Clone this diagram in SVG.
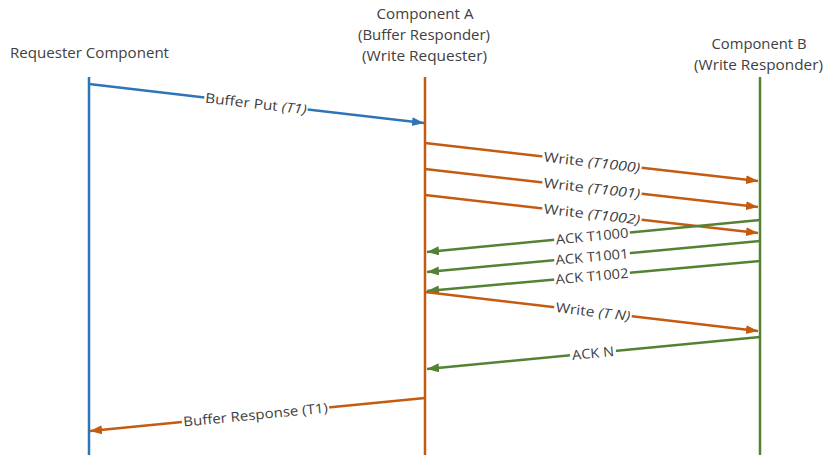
<svg xmlns="http://www.w3.org/2000/svg" width="823" height="455" viewBox="0 0 823 455">
<style>
.hdr{font-family:"Open Sans","Liberation Sans",sans-serif;font-size:14px;fill:#404040;text-anchor:middle}
.lbl{font-family:"Open Sans","Liberation Sans",sans-serif;font-size:13.5px;fill:#404040;text-anchor:middle;dominant-baseline:central}
.bg{fill:#ffffff}
.blue{stroke:#2e75b6}
.orange{stroke:#c55a11}
.green{stroke:#548235}
.life{stroke-width:2.5;fill:none}
.msg{stroke-width:2.5;fill:none}
</style>
<defs>
<marker id="aB" markerUnits="userSpaceOnUse" markerWidth="14" markerHeight="10" refX="12" refY="4.5" orient="auto"><path d="M0,0 L12,4.5 L0,9 z" fill="#2e75b6"/></marker>
<marker id="aO" markerUnits="userSpaceOnUse" markerWidth="14" markerHeight="10" refX="12" refY="4.5" orient="auto"><path d="M0,0 L12,4.5 L0,9 z" fill="#c55a11"/></marker>
<marker id="aG" markerUnits="userSpaceOnUse" markerWidth="14" markerHeight="10" refX="12" refY="4.5" orient="auto"><path d="M0,0 L12,4.5 L0,9 z" fill="#548235"/></marker>
</defs>
<rect width="823" height="455" fill="#ffffff"/>
<g id="requester">
<text class="hdr" x="89.5" y="58" textLength="159" lengthAdjust="spacingAndGlyphs">Requester Component</text>
<line class="life blue" x1="89" y1="77" x2="89" y2="455"/>
</g>
<g id="componentA">
<text class="hdr" x="425" y="19" textLength="97" lengthAdjust="spacingAndGlyphs">Component A</text>
<text class="hdr" x="424" y="40" textLength="132" lengthAdjust="spacingAndGlyphs">(Buffer Responder)</text>
<text class="hdr" x="424.5" y="61" textLength="125" lengthAdjust="spacingAndGlyphs">(Write Requester)</text>
<line class="life orange" x1="425" y1="77" x2="425" y2="455"/>
</g>
<g id="componentB">
<text class="hdr" x="759" y="49" textLength="95" lengthAdjust="spacingAndGlyphs">Component B</text>
<text class="hdr" x="758.5" y="70" textLength="129" lengthAdjust="spacingAndGlyphs">(Write Responder)</text>
<line class="life green" x1="760" y1="77" x2="760" y2="455"/>
</g>
<g id="connectors">
<line class="msg blue" x1="89" y1="84" x2="424" y2="123" marker-end="url(#aB)"/>
<g transform="translate(256,103.5) rotate(6.62)"><rect class="bg" x="-52" y="-7" width="104" height="14"/><text class="lbl" x="0" y="0" textLength="102" lengthAdjust="spacingAndGlyphs">Buffer Put <tspan font-style="italic">(T1)</tspan></text></g>

<line class="msg orange" x1="425" y1="143" x2="758" y2="181" marker-end="url(#aO)"/>
<g transform="translate(592,162) rotate(6.51)"><rect class="bg" x="-50" y="-7" width="100" height="14"/><text class="lbl" x="0" y="0" textLength="97" lengthAdjust="spacingAndGlyphs">Write <tspan font-style="italic">(T1000)</tspan></text></g>

<line class="msg orange" x1="425" y1="169" x2="758" y2="207" marker-end="url(#aO)"/>
<g transform="translate(592,188) rotate(6.51)"><rect class="bg" x="-50" y="-7" width="100" height="14"/><text class="lbl" x="0" y="0" textLength="97" lengthAdjust="spacingAndGlyphs">Write <tspan font-style="italic">(T1001)</tspan></text></g>

<line class="msg orange" x1="425" y1="195" x2="758" y2="233" marker-end="url(#aO)"/>
<g transform="translate(592,214) rotate(6.51)"><rect class="bg" x="-50" y="-7" width="100" height="14"/><text class="lbl" x="0" y="0" textLength="97" lengthAdjust="spacingAndGlyphs">Write <tspan font-style="italic">(T1002)</tspan></text></g>

<line class="msg green" x1="760" y1="220" x2="427" y2="252" marker-end="url(#aG)"/>
<g transform="translate(592,236) rotate(-5.49)"><rect class="bg" x="-38" y="-7" width="76" height="14"/><text class="lbl" x="0" y="0" textLength="73" lengthAdjust="spacingAndGlyphs">ACK T1000</text></g>

<line class="msg green" x1="760" y1="241" x2="427" y2="272" marker-end="url(#aG)"/>
<g transform="translate(592,256.5) rotate(-5.3)"><rect class="bg" x="-38" y="-7" width="76" height="14"/><text class="lbl" x="0" y="0" textLength="73" lengthAdjust="spacingAndGlyphs">ACK T1001</text></g>

<line class="msg green" x1="760" y1="261" x2="427" y2="291" marker-end="url(#aG)"/>
<g transform="translate(592,276) rotate(-5.15)"><rect class="bg" x="-38" y="-7" width="76" height="14"/><text class="lbl" x="0" y="0" textLength="73" lengthAdjust="spacingAndGlyphs">ACK T1002</text></g>

<line class="msg orange" x1="425" y1="292" x2="758" y2="331" marker-end="url(#aO)"/>
<g transform="translate(593,311.5) rotate(6.68)"><rect class="bg" x="-39" y="-7" width="78" height="14"/><text class="lbl" x="0" y="0" textLength="75" lengthAdjust="spacingAndGlyphs">Write <tspan font-style="italic">(T N)</tspan></text></g>

<line class="msg green" x1="760" y1="337" x2="427" y2="369" marker-end="url(#aG)"/>
<g transform="translate(593,353) rotate(-5.49)"><rect class="bg" x="-23" y="-7" width="46" height="14"/><text class="lbl" x="0" y="0" textLength="42" lengthAdjust="spacingAndGlyphs">ACK N</text></g>

<line class="msg orange" x1="425" y1="398" x2="90" y2="431" marker-end="url(#aO)"/>
<g transform="translate(255.5,414.5) rotate(-5.62)"><rect class="bg" x="-74" y="-7" width="148" height="14"/><text class="lbl" x="0" y="0" textLength="145" lengthAdjust="spacingAndGlyphs">Buffer Response (T1)</text></g>
</g>
</svg>
